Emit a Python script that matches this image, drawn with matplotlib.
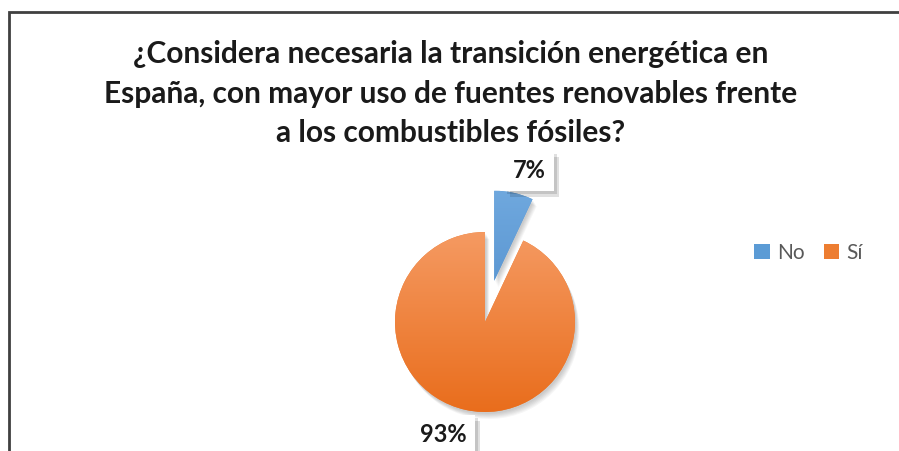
"""Pie chart: support for the energy transition in Spain."""
import matplotlib

matplotlib.use("Agg")
import matplotlib.pyplot as plt
import numpy as np
from matplotlib import patheffects as pe
from matplotlib.patches import Rectangle, Wedge
from matplotlib.colors import LinearSegmentedColormap

title = "¿Considera necesaria la transición energética en\nEspaña, con mayor uso de fuentes renovables frente\na los combustibles fósiles?"
labels = ["No", "Sí"]
values = [7, 93]
explode = [0.47, 0.0]
top_colors = ["#6fa8de", "#f59a62"]
bottom_colors = ["#4a88c8", "#e96d1c"]
legend_colors = ["#5b9bd5", "#ed7d31"]

W, H = 899, 451
plt.rcParams["font.family"] = ["Lato", "DejaVu Sans"]

fig = plt.figure(figsize=(W / 100, H / 100), dpi=100)
ax = fig.add_axes([0, 0, 1, 1])

cx, cy, r = 485, 129, 90
# pie() takes explode in data units, so scale the fractions by the radius
wedges, _ = ax.pie(values, explode=[e * r for e in explode], startangle=90, counterclock=False,
                   center=(cx, cy), radius=r, colors=legend_colors, frame=True)
ax.set_xlim(0, W)
ax.set_ylim(0, H)
ax.set_aspect("equal")
ax.axis("off")

# chart frame (runs off the right and bottom edges)
ax.add_patch(Rectangle((9, -20), W + 40, H - 12 + 20, fill=False, ec="#404040", lw=2, zorder=0))

ax.text(W / 2 + 1, 411, title, ha="center", va="top", fontsize=21.5, fontweight="bold",
        color="#1a1a1a", linespacing=1.5)

# soft drop shadow and vertical gradient for each slice
for w, c0, c1 in zip(wedges, top_colors, bottom_colors):
    (x0, y0), th1, th2, rr = w.center, w.theta1, w.theta2, w.r
    for k in range(6):
        off = 2 + k
        sh = Wedge((x0 + off * 0.6, y0 - off), rr, th1, th2, fc="black", alpha=0.035, ec="none", zorder=1)
        ax.add_patch(sh)
    w.set_zorder(2)
    w.set_edgecolor("none")
    cmap = LinearSegmentedColormap.from_list("g", [c1, c0])
    grad = np.linspace(0, 1, 256).reshape(-1, 1)
    im = ax.imshow(grad, cmap=cmap, origin="lower", extent=(x0 - rr, x0 + rr, y0 - rr, y0 + rr),
                   aspect="auto", zorder=3)
    im.set_clip_path(w)
ax.set_xlim(0, W)
ax.set_ylim(0, H)

# data labels in white boxes with a drop shadow
label_pos = [(529, 280), (443, 16)]
for (lx, ly), v in zip(label_pos, values):
    t = ax.text(lx, ly, f"{v}%", ha="center", va="center", fontsize=17, fontweight="bold", color="#1a1a1a",
                bbox=dict(boxstyle="square,pad=0.36", fc="white", ec="none"), zorder=5)
    t.get_bbox_patch().set_path_effects([
        pe.SimplePatchShadow(offset=(4, -4), shadow_rgbFace="black", alpha=0.12),
        pe.SimplePatchShadow(offset=(2, -2), shadow_rgbFace="black", alpha=0.12),
        pe.Normal(),
    ])

handles = [Rectangle((0, 0), 1, 1, fc=c, ec="none") for c in legend_colors]
ax.legend(handles, labels, loc="center left", bbox_to_anchor=(746 / W, 1 - 253 / H), ncol=2, frameon=False,
          fontsize=15, labelcolor="#595959", handlelength=0.75, handleheight=0.75, handletextpad=0.35,
          columnspacing=0.9, borderaxespad=0)

fig.savefig("out.png", dpi=100)
